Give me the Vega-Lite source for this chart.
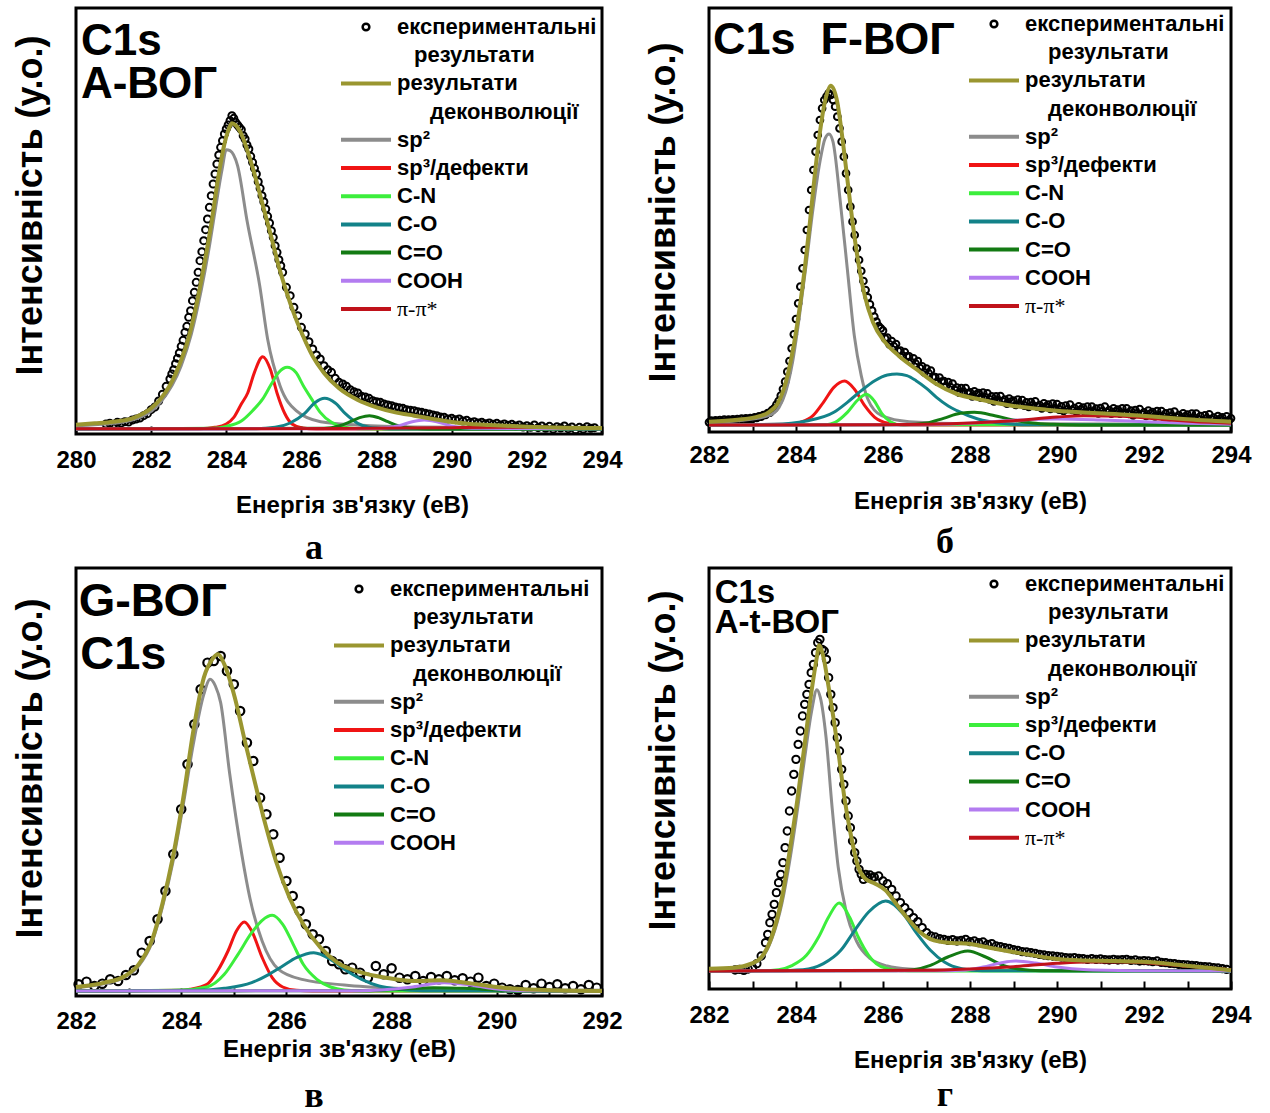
{
"$schema": "https://vega.github.io/schema/vega-lite/v6.json",
"padding": {"left": 10, "top": 6, "right": 0, "bottom": 0},
"autosize": {"type": "pad"},
"background": "white",
"bounds": "flush",
"columns": 2,
"spacing": {"row": 134, "column": 107},
"resolve": {"scale": {"stroke": "independent", "x": "independent", "y": "independent"}, "legend": {"stroke": "independent"}},
"config": {
  "view": {"stroke": "black", "strokeWidth": 3},
  "axis": {"grid": false, "domain": false, "labelFont": "Liberation Sans", "labelFontWeight": "bold", "labelFontSize": 24, "labelColor": "black", "titleFont": "Liberation Sans", "titleFontWeight": "bold", "titleFontSize": 24, "titleColor": "black", "tickColor": "black", "tickWidth": 2},
  "axisY": {"labels": false, "ticks": false, "titleFontSize": 36, "titlePadding": 27},
  "axisX": {"tickSize": -8, "labelOverlap": false, "labelFlush": false, "labelExpr": "datum.value % 2 == 0 ? datum.label : ''"},
  "title": {"font": "Liberation Serif", "fontSize": 36, "fontWeight": "bold", "color": "black", "orient": "bottom", "anchor": "middle", "dx": -25},
  "legend": {"labelFont": "Liberation Sans", "labelFontSize": 22, "labelFontWeight": "bold", "labelColor": "black", "labelLimit": 400, "labelOffset": 34, "symbolSize": 100, "rowPadding": 6.2, "padding": 0}
},
"datasets": {
"aE": [{"x":280.8,"y":15},{"x":280.9,"y":17},{"x":281.0,"y":14},{"x":281.1,"y":20},{"x":281.2,"y":18},{"x":281.3,"y":22},{"x":281.4,"y":21},{"x":281.5,"y":27},{"x":281.6,"y":30},{"x":281.7,"y":33},{"x":281.8,"y":40},{"x":281.9,"y":46},{"x":282.0,"y":58},{"x":282.1,"y":66},{"x":282.2,"y":84},{"x":282.3,"y":104},{"x":282.4,"y":128},{"x":282.5,"y":150},{"x":282.55,"y":165},{"x":282.6,"y":178},{"x":282.65,"y":196},{"x":282.7,"y":212},{"x":282.75,"y":228},{"x":282.8,"y":248},{"x":282.85,"y":266},{"x":282.9,"y":290},{"x":282.95,"y":308},{"x":283.0,"y":335},{"x":283.05,"y":355},{"x":283.1,"y":385},{"x":283.15,"y":410},{"x":283.2,"y":440},{"x":283.25,"y":470},{"x":283.3,"y":505},{"x":283.35,"y":532},{"x":283.4,"y":565},{"x":283.45,"y":598},{"x":283.5,"y":630},{"x":283.55,"y":665},{"x":283.6,"y":700},{"x":283.65,"y":735},{"x":283.7,"y":765},{"x":283.75,"y":795},{"x":283.8,"y":822},{"x":283.85,"y":845},{"x":283.9,"y":865},{"x":283.95,"y":885},{"x":284.0,"y":900},{"x":284.05,"y":912},{"x":284.1,"y":925},{"x":284.15,"y":940},{"x":284.2,"y":932},{"x":284.25,"y":920},{"x":284.3,"y":912},{"x":284.35,"y":905},{"x":284.4,"y":898},{"x":284.45,"y":880},{"x":284.5,"y":870},{"x":284.55,"y":852},{"x":284.6,"y":840},{"x":284.65,"y":818},{"x":284.7,"y":800},{"x":284.75,"y":782},{"x":284.8,"y":765},{"x":284.85,"y":742},{"x":284.9,"y":722},{"x":284.95,"y":700},{"x":285.0,"y":682},{"x":285.05,"y":660},{"x":285.1,"y":638},{"x":285.15,"y":618},{"x":285.2,"y":595},{"x":285.25,"y":575},{"x":285.3,"y":550},{"x":285.35,"y":530},{"x":285.4,"y":508},{"x":285.45,"y":490},{"x":285.5,"y":470},{"x":285.6,"y":425},{"x":285.7,"y":400},{"x":285.8,"y":365},{"x":285.9,"y":340},{"x":286.0,"y":305},{"x":286.1,"y":285},{"x":286.2,"y":262},{"x":286.3,"y":240},{"x":286.4,"y":222},{"x":286.5,"y":210},{"x":286.6,"y":190},{"x":286.7,"y":178},{"x":286.8,"y":170},{"x":286.9,"y":152},{"x":287.0,"y":140},{"x":287.1,"y":135},{"x":287.2,"y":128},{"x":287.3,"y":118},{"x":287.4,"y":112},{"x":287.5,"y":108},{"x":287.6,"y":98},{"x":287.7,"y":96},{"x":287.8,"y":92},{"x":287.9,"y":85},{"x":288.0,"y":82},{"x":288.1,"y":80},{"x":288.2,"y":75},{"x":288.3,"y":72},{"x":288.4,"y":70},{"x":288.5,"y":66},{"x":288.6,"y":64},{"x":288.7,"y":62},{"x":288.8,"y":58},{"x":288.9,"y":56},{"x":289.0,"y":55},{"x":289.1,"y":52},{"x":289.2,"y":50},{"x":289.3,"y":47},{"x":289.4,"y":45},{"x":289.5,"y":42},{"x":289.6,"y":40},{"x":289.7,"y":36},{"x":289.8,"y":35},{"x":289.9,"y":30},{"x":290.0,"y":32},{"x":290.1,"y":28},{"x":290.2,"y":30},{"x":290.3,"y":24},{"x":290.4,"y":26},{"x":290.5,"y":20},{"x":290.6,"y":22},{"x":290.7,"y":18},{"x":290.8,"y":20},{"x":290.9,"y":16},{"x":291.0,"y":18},{"x":291.1,"y":14},{"x":291.2,"y":17},{"x":291.3,"y":12},{"x":291.4,"y":15},{"x":291.5,"y":11},{"x":291.6,"y":14},{"x":291.7,"y":9},{"x":291.8,"y":12},{"x":291.9,"y":6},{"x":292.0,"y":10},{"x":292.1,"y":5},{"x":292.2,"y":12},{"x":292.3,"y":4},{"x":292.4,"y":9},{"x":292.5,"y":2},{"x":292.6,"y":8},{"x":292.7,"y":0},{"x":292.8,"y":7},{"x":292.9,"y":3},{"x":293.0,"y":9},{"x":293.1,"y":1},{"x":293.2,"y":6},{"x":293.3,"y":-2},{"x":293.4,"y":5},{"x":293.5,"y":0},{"x":293.6,"y":7},{"x":293.7,"y":2},{"x":293.8,"y":4}],
"aF": [{"x":280,"y":13},{"x":280.5,"y":17},{"x":281,"y":22},{"x":281.5,"y":32},{"x":282,"y":62},{"x":282.25,"y":90},{"x":282.5,"y":131},{"x":282.75,"y":192},{"x":283,"y":275},{"x":283.2,"y":370},{"x":283.4,"y":485},{"x":283.6,"y":615},{"x":283.8,"y":765},{"x":283.95,"y":855},{"x":284.05,"y":895},{"x":284.15,"y":917},{"x":284.25,"y":911},{"x":284.4,"y":885},{"x":284.6,"y":822},{"x":284.8,"y":745},{"x":285,"y":660},{"x":285.2,"y":575},{"x":285.4,"y":487},{"x":285.6,"y":412},{"x":285.8,"y":346},{"x":286,"y":290},{"x":286.3,"y":218},{"x":286.6,"y":168},{"x":287,"y":122},{"x":287.5,"y":87},{"x":288,"y":65},{"x":288.5,"y":50},{"x":289,"y":40},{"x":289.5,"y":30},{"x":290,"y":21},{"x":290.5,"y":15},{"x":291,"y":12},{"x":292,"y":7},{"x":293,"y":4},{"x":294,"y":3}],
"aC": [
{"s":"sp2","x":280,"y":10},{"s":"sp2","x":281,"y":17},{"s":"sp2","x":281.7,"y":35},{"s":"sp2","x":282.25,"y":80},{"s":"sp2","x":282.8,"y":190},{"s":"sp2","x":283.07,"y":285},{"s":"sp2","x":283.34,"y":420},{"s":"sp2","x":283.53,"y":535},{"s":"sp2","x":283.71,"y":660},{"s":"sp2","x":283.89,"y":780},{"s":"sp2","x":284,"y":838},{"s":"sp2","x":284.1,"y":835},{"s":"sp2","x":284.3,"y":790},{"s":"sp2","x":284.56,"y":620},{"s":"sp2","x":284.89,"y":430},{"s":"sp2","x":285.1,"y":270},{"s":"sp2","x":285.43,"y":130},{"s":"sp2","x":285.86,"y":55},{"s":"sp2","x":286.51,"y":22},{"s":"sp2","x":287.5,"y":12},{"s":"sp2","x":289,"y":6},{"s":"sp2","x":294,"y":3},
{"s":"sp3","x":280,"y":0},{"s":"sp3","x":283.3,"y":1},{"s":"sp3","x":283.7,"y":5},{"s":"sp3","x":284,"y":15},{"s":"sp3","x":284.2,"y":35},{"s":"sp3","x":284.4,"y":75},{"s":"sp3","x":284.57,"y":108},{"s":"sp3","x":284.75,"y":170},{"s":"sp3","x":284.97,"y":217},{"s":"sp3","x":285.17,"y":180},{"s":"sp3","x":285.35,"y":108},{"s":"sp3","x":285.55,"y":48},{"s":"sp3","x":285.75,"y":15},{"s":"sp3","x":286,"y":4},{"s":"sp3","x":286.4,"y":0},{"s":"sp3","x":294,"y":0},
{"s":"cn","x":280,"y":0},{"s":"cn","x":283.6,"y":2},{"s":"cn","x":284,"y":8},{"s":"cn","x":284.4,"y":24},{"s":"cn","x":284.7,"y":55},{"s":"cn","x":284.98,"y":92},{"s":"cn","x":285.2,"y":135},{"s":"cn","x":285.4,"y":170},{"s":"cn","x":285.62,"y":185},{"s":"cn","x":285.85,"y":170},{"s":"cn","x":286.05,"y":130},{"s":"cn","x":286.26,"y":92},{"s":"cn","x":286.5,"y":50},{"s":"cn","x":286.8,"y":20},{"s":"cn","x":287.1,"y":6},{"s":"cn","x":287.5,"y":1},{"s":"cn","x":288,"y":0},{"s":"cn","x":294,"y":0},
{"s":"co","x":280,"y":0},{"s":"co","x":284.8,"y":1},{"s":"co","x":285.3,"y":5},{"s":"co","x":285.7,"y":18},{"s":"co","x":286.08,"y":46},{"s":"co","x":286.35,"y":78},{"s":"co","x":286.62,"y":92},{"s":"co","x":286.9,"y":78},{"s":"co","x":287.17,"y":46},{"s":"co","x":287.5,"y":17},{"s":"co","x":287.8,"y":5},{"s":"co","x":288.2,"y":1},{"s":"co","x":288.6,"y":0},{"s":"co","x":294,"y":0},
{"s":"cdo","x":280,"y":0},{"s":"cdo","x":286.6,"y":2},{"s":"cdo","x":287,"y":9},{"s":"cdo","x":287.3,"y":22},{"s":"cdo","x":287.55,"y":34},{"s":"cdo","x":287.81,"y":40},{"s":"cdo","x":288.05,"y":34},{"s":"cdo","x":288.3,"y":22},{"s":"cdo","x":288.6,"y":9},{"s":"cdo","x":289,"y":2},{"s":"cdo","x":289.4,"y":0},{"s":"cdo","x":294,"y":0},
{"s":"cooh","x":280,"y":0},{"s":"cooh","x":287.8,"y":1},{"s":"cooh","x":288.2,"y":3},{"s":"cooh","x":288.6,"y":10},{"s":"cooh","x":288.95,"y":22},{"s":"cooh","x":289.27,"y":27},{"s":"cooh","x":289.6,"y":22},{"s":"cooh","x":289.95,"y":10},{"s":"cooh","x":290.3,"y":4},{"s":"cooh","x":290.8,"y":2},{"s":"cooh","x":294,"y":1},
{"s":"pi","x":280,"y":1},{"s":"pi","x":285,"y":1},{"s":"pi","x":288,"y":2},{"s":"pi","x":290,"y":4},{"s":"pi","x":291.5,"y":5},{"s":"pi","x":293,"y":4},{"s":"pi","x":294,"y":3}],
"bE": [{"x":282.0,"y":8},{"x":282.05,"y":13},{"x":282.1,"y":9},{"x":282.15,"y":14},{"x":282.2,"y":10},{"x":282.25,"y":15},{"x":282.3,"y":11},{"x":282.35,"y":16},{"x":282.4,"y":12},{"x":282.45,"y":16},{"x":282.5,"y":13},{"x":282.55,"y":17},{"x":282.6,"y":13},{"x":282.65,"y":18},{"x":282.7,"y":14},{"x":282.75,"y":19},{"x":282.8,"y":15},{"x":282.85,"y":20},{"x":282.9,"y":16},{"x":282.95,"y":21},{"x":283.0,"y":18},{"x":283.05,"y":23},{"x":283.1,"y":21},{"x":283.15,"y":26},{"x":283.2,"y":25},{"x":283.25,"y":30},{"x":283.3,"y":30},{"x":283.35,"y":36},{"x":283.4,"y":37},{"x":283.45,"y":45},{"x":283.5,"y":50},{"x":283.55,"y":61},{"x":283.6,"y":72},{"x":283.65,"y":88},{"x":283.7,"y":108},{"x":283.75,"y":130},{"x":283.8,"y":160},{"x":283.85,"y":192},{"x":283.9,"y":230},{"x":283.95,"y":272},{"x":284.0,"y":318},{"x":284.05,"y":365},{"x":284.1,"y":415},{"x":284.15,"y":470},{"x":284.2,"y":525},{"x":284.25,"y":585},{"x":284.3,"y":645},{"x":284.35,"y":705},{"x":284.4,"y":765},{"x":284.45,"y":820},{"x":284.5,"y":870},{"x":284.55,"y":915},{"x":284.6,"y":950},{"x":284.65,"y":975},{"x":284.7,"y":985},{"x":284.75,"y":995},{"x":284.8,"y":990},{"x":284.85,"y":975},{"x":284.9,"y":955},{"x":284.95,"y":925},{"x":285.0,"y":890},{"x":285.05,"y":850},{"x":285.1,"y":805},{"x":285.15,"y":755},{"x":285.2,"y":705},{"x":285.25,"y":655},{"x":285.3,"y":610},{"x":285.35,"y":570},{"x":285.4,"y":530},{"x":285.45,"y":495},{"x":285.5,"y":462},{"x":285.55,"y":432},{"x":285.6,"y":405},{"x":285.65,"y":383},{"x":285.7,"y":362},{"x":285.75,"y":343},{"x":285.8,"y":325},{"x":285.85,"y":310},{"x":285.9,"y":297},{"x":285.95,"y":290},
{"x":286.0,"y":283},{"x":286.05,"y":259},{"x":286.1,"y":262},{"x":286.15,"y":242},{"x":286.2,"y":252},{"x":286.25,"y":236},{"x":286.3,"y":243},{"x":286.35,"y":222},{"x":286.4,"y":223},{"x":286.45,"y":208},{"x":286.5,"y":219},{"x":286.55,"y":206},{"x":286.6,"y":206},{"x":286.65,"y":189},{"x":286.7,"y":200},{"x":286.75,"y":184},{"x":286.8,"y":192},{"x":286.85,"y":171},{"x":286.9,"y":176},{"x":286.95,"y":158},{"x":287.0,"y":169},{"x":287.05,"y":155},{"x":287.1,"y":163},{"x":287.15,"y":143},{"x":287.2,"y":144},{"x":287.25,"y":130},{"x":287.3,"y":142},{"x":287.35,"y":130},{"x":287.4,"y":132},{"x":287.45,"y":117},{"x":287.5,"y":129},{"x":287.55,"y":114},{"x":287.6,"y":124},{"x":287.65,"y":105},{"x":287.7,"y":112},{"x":287.75,"y":97},{"x":287.8,"y":111},{"x":287.85,"y":100},{"x":287.9,"y":111},{"x":287.95,"y":94},{"x":288.0,"y":98},{"x":288.05,"y":86},{"x":288.1,"y":101},{"x":288.15,"y":92},{"x":288.2,"y":96},{"x":288.25,"y":82},{"x":288.3,"y":97},{"x":288.35,"y":84},{"x":288.4,"y":95},{"x":288.45,"y":77},{"x":288.5,"y":86},{"x":288.55,"y":71},{"x":288.6,"y":86},{"x":288.65,"y":75},{"x":288.7,"y":87},{"x":288.75,"y":71},{"x":288.8,"y":76},{"x":288.85,"y":64},{"x":288.9,"y":79},{"x":288.95,"y":70},{"x":289.0,"y":73},{"x":289.05,"y":60},{"x":289.1,"y":76},{"x":289.15,"y":63},{"x":289.2,"y":75},{"x":289.25,"y":58},{"x":289.3,"y":68},{"x":289.35,"y":54},{"x":289.4,"y":69},{"x":289.45,"y":59},{"x":289.5,"y":71},{"x":289.55,"y":55},{"x":289.6,"y":60},{"x":289.65,"y":50},{"x":289.7,"y":65},{"x":289.75,"y":56},{"x":289.8,"y":61},{"x":289.85,"y":48},{"x":289.9,"y":64},{"x":289.95,"y":51},{"x":290.0,"y":63},{"x":290.05,"y":46},{"x":290.1,"y":56},{"x":290.15,"y":42},{"x":290.2,"y":58},{"x":290.25,"y":48},{"x":290.3,"y":61},{"x":290.35,"y":45},{"x":290.4,"y":51},{"x":290.45,"y":40},{"x":290.5,"y":56},{"x":290.55,"y":47},{"x":290.6,"y":52},{"x":290.65,"y":39},{"x":290.7,"y":55},{"x":290.75,"y":42},{"x":290.8,"y":55},{"x":290.85,"y":39},{"x":290.9,"y":49},{"x":290.95,"y":35},{"x":291.0,"y":51},{"x":291.05,"y":42},{"x":291.1,"y":55},{"x":291.15,"y":39},{"x":291.2,"y":45},{"x":291.25,"y":34},{"x":291.3,"y":50},{"x":291.35,"y":41},{"x":291.4,"y":46},{"x":291.45,"y":34},{"x":291.5,"y":50},{"x":291.55,"y":37},{"x":291.6,"y":50},{"x":291.65,"y":33},{"x":291.7,"y":43},{"x":291.75,"y":29},{"x":291.8,"y":45},{"x":291.85,"y":35},{"x":291.9,"y":48},{"x":291.95,"y":32},{"x":292.0,"y":38},{"x":292.05,"y":27},{"x":292.1,"y":43},{"x":292.15,"y":34},{"x":292.2,"y":39},{"x":292.25,"y":26},{"x":292.3,"y":42},{"x":292.35,"y":29},{"x":292.4,"y":42},{"x":292.45,"y":25},{"x":292.5,"y":35},{"x":292.55,"y":21},{"x":292.6,"y":37},{"x":292.65,"y":27},{"x":292.7,"y":40},{"x":292.75,"y":24},{"x":292.8,"y":30},{"x":292.85,"y":19},{"x":292.9,"y":35},{"x":292.95,"y":26},{"x":293.0,"y":31},{"x":293.05,"y":19},{"x":293.1,"y":34},{"x":293.15,"y":22},{"x":293.2,"y":34},{"x":293.25,"y":18},{"x":293.3,"y":27},{"x":293.35,"y":14},{"x":293.4,"y":29},{"x":293.45,"y":20},{"x":293.5,"y":32},{"x":293.55,"y":17},{"x":293.6,"y":22},{"x":293.65,"y":12},{"x":293.7,"y":27},{"x":293.75,"y":19},{"x":293.8,"y":23},{"x":293.85,"y":11},{"x":293.9,"y":26},{"x":293.95,"y":14},{"x":294.0,"y":20}],
"bF": [{"x":282,"y":10},{"x":282.66,"y":16},{"x":283.05,"y":23},{"x":283.37,"y":38},{"x":283.57,"y":63},{"x":283.72,"y":108},{"x":283.84,"y":168},{"x":283.96,"y":248},{"x":284.08,"y":348},{"x":284.2,"y":468},{"x":284.32,"y":608},{"x":284.43,"y":748},{"x":284.55,"y":878},{"x":284.67,"y":973},{"x":284.8,"y":1018},{"x":284.95,"y":968},{"x":285.06,"y":868},{"x":285.18,"y":738},{"x":285.3,"y":608},{"x":285.42,"y":498},{"x":285.58,"y":388},{"x":285.77,"y":308},{"x":286.05,"y":248},{"x":286.36,"y":208},{"x":286.76,"y":168},{"x":287.23,"y":123},{"x":287.7,"y":93},{"x":288.18,"y":78},{"x":288.96,"y":58},{"x":289.75,"y":46},{"x":290.54,"y":38},{"x":291.33,"y":33},{"x":292.12,"y":26},{"x":292.9,"y":18},{"x":294,"y":10}],
"bC": [
{"s":"sp2","x":282,"y":8},{"s":"sp2","x":282.66,"y":13},{"s":"sp2","x":283.37,"y":28},{"s":"sp2","x":283.61,"y":53},{"s":"sp2","x":283.76,"y":98},{"s":"sp2","x":283.92,"y":188},{"s":"sp2","x":284.08,"y":328},{"s":"sp2","x":284.24,"y":488},{"s":"sp2","x":284.39,"y":648},{"s":"sp2","x":284.55,"y":790},{"s":"sp2","x":284.67,"y":860},{"s":"sp2","x":284.76,"y":873},{"s":"sp2","x":284.85,"y":850},{"s":"sp2","x":285.02,"y":668},{"s":"sp2","x":285.18,"y":468},{"s":"sp2","x":285.34,"y":268},{"s":"sp2","x":285.5,"y":148},{"s":"sp2","x":285.65,"y":78},{"s":"sp2","x":285.97,"y":28},{"s":"sp2","x":286.6,"y":10},{"s":"sp2","x":288,"y":4},{"s":"sp2","x":294,"y":2},
{"s":"sp3","x":282,"y":0},{"s":"sp3","x":283.9,"y":2},{"s":"sp3","x":284.1,"y":8},{"s":"sp3","x":284.39,"y":28},{"s":"sp3","x":284.63,"y":68},{"s":"sp3","x":284.87,"y":113},{"s":"sp3","x":285.12,"y":132},{"s":"sp3","x":285.34,"y":108},{"s":"sp3","x":285.58,"y":58},{"s":"sp3","x":285.81,"y":23},{"s":"sp3","x":286.13,"y":5},{"s":"sp3","x":286.5,"y":0},{"s":"sp3","x":294,"y":0},
{"s":"cn","x":282,"y":0},{"s":"cn","x":284.7,"y":1},{"s":"cn","x":284.9,"y":8},{"s":"cn","x":285.18,"y":38},{"s":"cn","x":285.42,"y":75},{"s":"cn","x":285.62,"y":92},{"s":"cn","x":285.8,"y":72},{"s":"cn","x":285.97,"y":35},{"s":"cn","x":286.17,"y":10},{"s":"cn","x":286.4,"y":1},{"s":"cn","x":294,"y":0},
{"s":"co","x":282,"y":0},{"s":"co","x":283.5,"y":2},{"s":"co","x":284.24,"y":12},{"s":"co","x":284.87,"y":38},{"s":"co","x":285.18,"y":68},{"s":"co","x":285.5,"y":103},{"s":"co","x":285.81,"y":133},{"s":"co","x":286.1,"y":150},{"s":"co","x":286.32,"y":153},{"s":"co","x":286.55,"y":148},{"s":"co","x":286.76,"y":133},{"s":"co","x":287,"y":110},{"s":"co","x":287.23,"y":83},{"s":"co","x":287.5,"y":57},{"s":"co","x":287.7,"y":43},{"s":"co","x":288.18,"y":18},{"s":"co","x":288.73,"y":5},{"s":"co","x":289.2,"y":1},{"s":"co","x":294,"y":0},
{"s":"cdo","x":282,"y":0},{"s":"cdo","x":286.5,"y":1},{"s":"cdo","x":287,"y":6},{"s":"cdo","x":287.39,"y":20},{"s":"cdo","x":287.78,"y":35},{"s":"cdo","x":288.1,"y":38},{"s":"cdo","x":288.57,"y":28},{"s":"cdo","x":288.96,"y":16},{"s":"cdo","x":289.44,"y":6},{"s":"cdo","x":289.91,"y":2},{"s":"cdo","x":290.5,"y":0},{"s":"cdo","x":294,"y":0},
{"s":"cooh","x":282,"y":0},{"s":"cooh","x":287,"y":1},{"s":"cooh","x":288,"y":5},{"s":"cooh","x":289,"y":14},{"s":"cooh","x":290,"y":18},{"s":"cooh","x":291,"y":15},{"s":"cooh","x":292,"y":10},{"s":"cooh","x":293,"y":5},{"s":"cooh","x":294,"y":2},
{"s":"pi","x":282,"y":0},{"s":"pi","x":286,"y":1},{"s":"pi","x":288,"y":6},{"s":"pi","x":289,"y":13},{"s":"pi","x":290,"y":24},{"s":"pi","x":290.62,"y":28},{"s":"pi","x":291.5,"y":26},{"s":"pi","x":292.5,"y":16},{"s":"pi","x":293.5,"y":8},{"s":"pi","x":294,"y":5}],
"cE": [{"x":282.05,"y":20},{"x":282.2,"y":28},{"x":282.35,"y":15},{"x":282.5,"y":22},{"x":282.65,"y":35},{"x":282.8,"y":30},{"x":282.95,"y":48},{"x":283.1,"y":62},{"x":283.25,"y":115},{"x":283.4,"y":150},{"x":283.55,"y":215},{"x":283.7,"y":300},{"x":283.85,"y":410},{"x":284.0,"y":545},{"x":284.12,"y":680},{"x":284.25,"y":800},{"x":284.37,"y":905},{"x":284.5,"y":985},{"x":284.62,"y":990},{"x":284.75,"y":1005},{"x":284.87,"y":960},{"x":285.0,"y":920},{"x":285.12,"y":840},{"x":285.25,"y":745},{"x":285.37,"y":690},{"x":285.5,"y":580},{"x":285.62,"y":530},{"x":285.75,"y":470},{"x":285.87,"y":400},{"x":286.0,"y":330},{"x":286.12,"y":285},{"x":286.25,"y":240},{"x":286.37,"y":200},{"x":286.5,"y":170},{"x":286.62,"y":155},{"x":286.75,"y":120},{"x":286.87,"y":90},{"x":287.0,"y":80},{"x":287.12,"y":65},{"x":287.25,"y":70},{"x":287.4,"y":55},{"x":287.55,"y":40},{"x":287.7,"y":75},{"x":287.85,"y":50},{"x":288.0,"y":68},{"x":288.15,"y":40},{"x":288.3,"y":35},{"x":288.45,"y":45},{"x":288.6,"y":30},{"x":288.75,"y":42},{"x":288.9,"y":35},{"x":289.05,"y":45},{"x":289.2,"y":32},{"x":289.35,"y":38},{"x":289.5,"y":28},{"x":289.65,"y":40},{"x":289.8,"y":15},{"x":289.95,"y":22},{"x":290.1,"y":10},{"x":290.25,"y":5},{"x":290.4,"y":3},{"x":290.55,"y":18},{"x":290.7,"y":8},{"x":290.85,"y":22},{"x":291.0,"y":12},{"x":291.15,"y":20},{"x":291.3,"y":8},{"x":291.45,"y":15},{"x":291.6,"y":5},{"x":291.75,"y":18},{"x":291.9,"y":10}],
"cF": [{"x":282,"y":12},{"x":282.54,"y":25},{"x":282.93,"y":45},{"x":283.19,"y":80},{"x":283.45,"y":155},{"x":283.64,"y":260},{"x":283.84,"y":400},{"x":284.04,"y":580},{"x":284.23,"y":780},{"x":284.43,"y":940},{"x":284.59,"y":995},{"x":284.7,"y":1010},{"x":284.82,"y":980},{"x":285.02,"y":880},{"x":285.21,"y":750},{"x":285.41,"y":620},{"x":285.6,"y":500},{"x":285.8,"y":390},{"x":286.06,"y":280},{"x":286.32,"y":200},{"x":286.65,"y":130},{"x":286.97,"y":85},{"x":287.43,"y":55},{"x":287.89,"y":40},{"x":288.41,"y":30},{"x":288.93,"y":32},{"x":289.26,"y":28},{"x":289.72,"y":18},{"x":290.24,"y":8},{"x":291.02,"y":2},{"x":292,"y":0}],
"cC": [
{"s":"sp2","x":282,"y":10},{"s":"sp2","x":282.54,"y":22},{"s":"sp2","x":282.93,"y":42},{"s":"sp2","x":283.19,"y":75},{"s":"sp2","x":283.45,"y":148},{"s":"sp2","x":283.64,"y":250},{"s":"sp2","x":283.84,"y":385},{"s":"sp2","x":284.04,"y":560},{"s":"sp2","x":284.23,"y":740},{"s":"sp2","x":284.43,"y":890},{"s":"sp2","x":284.55,"y":935},{"s":"sp2","x":284.65,"y":915},{"s":"sp2","x":284.75,"y":865},{"s":"sp2","x":284.92,"y":654},{"s":"sp2","x":285.15,"y":412},{"s":"sp2","x":285.31,"y":276},{"s":"sp2","x":285.54,"y":149},{"s":"sp2","x":285.85,"y":65},{"s":"sp2","x":286.32,"y":34},{"s":"sp2","x":287.1,"y":18},{"s":"sp2","x":288.08,"y":8},{"s":"sp2","x":289,"y":4},{"s":"sp2","x":292,"y":2},
{"s":"sp3","x":282,"y":0},{"s":"sp3","x":284,"y":2},{"s":"sp3","x":284.17,"y":5},{"s":"sp3","x":284.49,"y":20},{"s":"sp3","x":284.69,"y":60},{"s":"sp3","x":284.89,"y":120},{"s":"sp3","x":285.05,"y":180},{"s":"sp3","x":285.2,"y":207},{"s":"sp3","x":285.34,"y":180},{"s":"sp3","x":285.54,"y":100},{"s":"sp3","x":285.73,"y":40},{"s":"sp3","x":285.93,"y":12},{"s":"sp3","x":286.19,"y":2},{"s":"sp3","x":286.5,"y":0},{"s":"sp3","x":292,"y":0},
{"s":"cn","x":282,"y":0},{"s":"cn","x":284,"y":3},{"s":"cn","x":284.49,"y":12},{"s":"cn","x":284.82,"y":50},{"s":"cn","x":285.08,"y":110},{"s":"cn","x":285.34,"y":175},{"s":"cn","x":285.54,"y":212},{"s":"cn","x":285.73,"y":227},{"s":"cn","x":285.93,"y":200},{"s":"cn","x":286.13,"y":140},{"s":"cn","x":286.32,"y":80},{"s":"cn","x":286.58,"y":35},{"s":"cn","x":286.84,"y":12},{"s":"cn","x":287.1,"y":3},{"s":"cn","x":287.5,"y":0},{"s":"cn","x":292,"y":0},
{"s":"co","x":282,"y":0},{"s":"co","x":284.3,"y":2},{"s":"co","x":284.82,"y":8},{"s":"co","x":285.34,"y":25},{"s":"co","x":285.67,"y":50},{"s":"co","x":285.93,"y":75},{"s":"co","x":286.19,"y":100},{"s":"co","x":286.52,"y":115},{"s":"co","x":286.84,"y":95},{"s":"co","x":287.1,"y":65},{"s":"co","x":287.43,"y":35},{"s":"co","x":287.76,"y":15},{"s":"co","x":288.15,"y":5},{"s":"co","x":288.6,"y":1},{"s":"co","x":292,"y":0},
{"s":"cdo","x":282,"y":0},{"s":"cdo","x":287.5,"y":1},{"s":"cdo","x":288.2,"y":6},{"s":"cdo","x":288.8,"y":10},{"s":"cdo","x":289.4,"y":8},{"s":"cdo","x":290,"y":3},{"s":"cdo","x":290.6,"y":0},{"s":"cdo","x":292,"y":0},
{"s":"cooh","x":282,"y":0},{"s":"cooh","x":287.4,"y":1},{"s":"cooh","x":287.8,"y":3},{"s":"cooh","x":288.4,"y":12},{"s":"cooh","x":289,"y":25},{"s":"cooh","x":289.5,"y":18},{"s":"cooh","x":290,"y":6},{"s":"cooh","x":290.5,"y":1},{"s":"cooh","x":292,"y":0}],
"dE": [{"x":282.6,"y":3},{"x":282.7,"y":5},{"x":282.8,"y":2},{"x":282.9,"y":6},{"x":283.0,"y":10},{"x":283.1,"y":22},{"x":283.2,"y":45},{"x":283.3,"y":85},{"x":283.35,"y":110},{"x":283.4,"y":145},{"x":283.45,"y":170},{"x":283.5,"y":200},{"x":283.55,"y":235},{"x":283.6,"y":265},{"x":283.65,"y":290},{"x":283.7,"y":325},{"x":283.75,"y":370},{"x":283.8,"y":420},{"x":283.85,"y":480},{"x":283.9,"y":540},{"x":283.95,"y":590},{"x":284.0,"y":635},{"x":284.05,"y":680},{"x":284.1,"y":720},{"x":284.15,"y":765},{"x":284.2,"y":800},{"x":284.25,"y":830},{"x":284.3,"y":860},{"x":284.35,"y":895},{"x":284.4,"y":920},{"x":284.45,"y":955},{"x":284.5,"y":985},{"x":284.55,"y":995},{"x":284.6,"y":965},{"x":284.65,"y":960},{"x":284.7,"y":935},{"x":284.75,"y":880},{"x":284.8,"y":830},{"x":284.85,"y":790},{"x":284.9,"y":745},{"x":284.95,"y":700},{"x":285.0,"y":660},{"x":285.05,"y":605},{"x":285.1,"y":560},{"x":285.15,"y":510},{"x":285.2,"y":465},{"x":285.25,"y":430},{"x":285.3,"y":390},{"x":285.35,"y":355},{"x":285.4,"y":330},{"x":285.45,"y":305},{"x":285.5,"y":290},{"x":285.55,"y":275},{"x":285.6,"y":290},{"x":285.65,"y":280},{"x":285.7,"y":288},{"x":285.75,"y":280},{"x":285.8,"y":282},{"x":285.9,"y":285},{"x":286.0,"y":270},{"x":286.1,"y":262},{"x":286.2,"y":245},{"x":286.3,"y":225},{"x":286.4,"y":205},{"x":286.5,"y":190},{"x":286.6,"y":175},{"x":286.7,"y":160},{"x":286.8,"y":148},{"x":286.9,"y":130},{"x":287.0,"y":115},{"x":287.1,"y":105},{"x":287.2,"y":102},{"x":287.3,"y":97},{"x":287.4,"y":95},{"x":287.5,"y":92},{"x":287.6,"y":94},{"x":287.7,"y":90},{"x":287.8,"y":92},{"x":287.9,"y":95},{"x":288.0,"y":88},{"x":288.1,"y":90},{"x":288.2,"y":85},{"x":288.3,"y":87},{"x":288.4,"y":80},{"x":288.5,"y":82},{"x":288.6,"y":75},{"x":288.7,"y":73},{"x":288.8,"y":70},{"x":288.9,"y":68},{"x":289.0,"y":64},{"x":289.1,"y":62},{"x":289.2,"y":58},{"x":289.3,"y":57},{"x":289.4,"y":55},{"x":289.5,"y":53},{"x":289.6,"y":50},{"x":289.7,"y":48},{"x":289.8,"y":46},{"x":289.9,"y":45},{"x":290.0,"y":44},{"x":290.1,"y":42},{"x":290.2,"y":40},{"x":290.3,"y":39},{"x":290.4,"y":40},{"x":290.5,"y":38},{"x":290.6,"y":37},{"x":290.7,"y":35},{"x":290.8,"y":37},{"x":290.9,"y":35},{"x":291.0,"y":36},{"x":291.1,"y":34},{"x":291.2,"y":33},{"x":291.3,"y":35},{"x":291.4,"y":33},{"x":291.5,"y":34},{"x":291.6,"y":35},{"x":291.7,"y":32},{"x":291.8,"y":33},{"x":291.9,"y":30},{"x":292.0,"y":31},{"x":292.1,"y":30},{"x":292.2,"y":28},{"x":292.3,"y":30},{"x":292.4,"y":26},{"x":292.5,"y":25},{"x":292.6,"y":23},{"x":292.7,"y":22},{"x":292.8,"y":20},{"x":292.9,"y":19},{"x":293.0,"y":18},{"x":293.1,"y":17},{"x":293.2,"y":16},{"x":293.3,"y":14},{"x":293.4,"y":13},{"x":293.5,"y":12},{"x":293.6,"y":10},{"x":293.7,"y":9},{"x":293.8,"y":7},{"x":293.9,"y":5}],
"dF": [{"x":282,"y":7},{"x":282.57,"y":10},{"x":282.97,"y":22},{"x":283.21,"y":42},{"x":283.44,"y":102},{"x":283.68,"y":222},{"x":283.88,"y":382},{"x":284.04,"y":522},{"x":284.2,"y":682},{"x":284.36,"y":842},{"x":284.48,"y":942},{"x":284.53,"y":977},{"x":284.63,"y":942},{"x":284.75,"y":852},{"x":284.87,"y":752},{"x":284.99,"y":642},{"x":285.11,"y":522},{"x":285.27,"y":402},{"x":285.43,"y":312},{"x":285.59,"y":277},{"x":285.82,"y":262},{"x":286.06,"y":242},{"x":286.3,"y":202},{"x":286.54,"y":162},{"x":286.85,"y":117},{"x":287.17,"y":92},{"x":287.57,"y":84},{"x":287.97,"y":82},{"x":288.36,"y":72},{"x":288.76,"y":62},{"x":289.31,"y":50},{"x":289.95,"y":37},{"x":290.5,"y":32},{"x":291.3,"y":30},{"x":292.09,"y":27},{"x":292.88,"y":17},{"x":293.52,"y":9},{"x":294,"y":2}],
"dC": [
{"s":"sp2","x":282,"y":5},{"s":"sp2","x":282.57,"y":8},{"s":"sp2","x":282.97,"y":20},{"s":"sp2","x":283.21,"y":38},{"s":"sp2","x":283.44,"y":95},{"s":"sp2","x":283.68,"y":205},{"s":"sp2","x":283.88,"y":350},{"s":"sp2","x":284.04,"y":490},{"s":"sp2","x":284.2,"y":640},{"s":"sp2","x":284.36,"y":780},{"s":"sp2","x":284.48,"y":844},{"s":"sp2","x":284.56,"y":820},{"s":"sp2","x":284.69,"y":702},{"s":"sp2","x":284.83,"y":491},{"s":"sp2","x":284.97,"y":312},{"s":"sp2","x":285.16,"y":174},{"s":"sp2","x":285.39,"y":90},{"s":"sp2","x":285.71,"y":37},{"s":"sp2","x":286.1,"y":15},{"s":"sp2","x":286.6,"y":6},{"s":"sp2","x":287.5,"y":2},{"s":"sp2","x":294,"y":0},
{"s":"sp3","x":282,"y":0},{"s":"sp3","x":283.2,"y":1},{"s":"sp3","x":283.6,"y":4},{"s":"sp3","x":283.92,"y":17},{"s":"sp3","x":284.24,"y":47},{"s":"sp3","x":284.52,"y":102},{"s":"sp3","x":284.75,"y":162},{"s":"sp3","x":284.99,"y":204},{"s":"sp3","x":285.23,"y":162},{"s":"sp3","x":285.43,"y":102},{"s":"sp3","x":285.67,"y":47},{"s":"sp3","x":285.9,"y":17},{"s":"sp3","x":286.22,"y":4},{"s":"sp3","x":286.6,"y":0},{"s":"sp3","x":294,"y":0},
{"s":"co","x":282,"y":0},{"s":"co","x":283.5,"y":1},{"s":"co","x":284.16,"y":4},{"s":"co","x":284.63,"y":22},{"s":"co","x":285.03,"y":62},{"s":"co","x":285.35,"y":122},{"s":"co","x":285.67,"y":177},{"s":"co","x":286.06,"y":210},{"s":"co","x":286.46,"y":172},{"s":"co","x":286.78,"y":112},{"s":"co","x":287.09,"y":62},{"s":"co","x":287.41,"y":27},{"s":"co","x":287.81,"y":7},{"s":"co","x":288.28,"y":1},{"s":"co","x":294,"y":0},
{"s":"cdo","x":282,"y":0},{"s":"cdo","x":286.3,"y":1},{"s":"cdo","x":286.7,"y":4},{"s":"cdo","x":287.09,"y":17},{"s":"cdo","x":287.49,"y":42},{"s":"cdo","x":287.95,"y":60},{"s":"cdo","x":288.36,"y":42},{"s":"cdo","x":288.76,"y":17},{"s":"cdo","x":289.15,"y":5},{"s":"cdo","x":289.63,"y":1},{"s":"cdo","x":294,"y":0},
{"s":"cooh","x":282,"y":0},{"s":"cooh","x":287.5,"y":1},{"s":"cooh","x":287.8,"y":2},{"s":"cooh","x":288.3,"y":12},{"s":"cooh","x":288.7,"y":24},{"s":"cooh","x":289.04,"y":30},{"s":"cooh","x":289.5,"y":24},{"s":"cooh","x":290,"y":12},{"s":"cooh","x":290.7,"y":4},{"s":"cooh","x":292,"y":1},{"s":"cooh","x":294,"y":0},
{"s":"pi","x":282,"y":0},{"s":"pi","x":287,"y":2},{"s":"pi","x":288,"y":6},{"s":"pi","x":289,"y":13},{"s":"pi","x":290,"y":23},{"s":"pi","x":290.66,"y":27},{"s":"pi","x":291.5,"y":27},{"s":"pi","x":292.3,"y":22},{"s":"pi","x":293,"y":14},{"s":"pi","x":294,"y":4}]
},
"concat": [
{"width": 526, "height": 426,
 "title": {"text": "а", "offset": 14},
 "layer": [
  {"data": {"name": "aE"}, "mark": {"type": "point", "filled": false, "size": 50, "strokeWidth": 2, "opacity": 1},
   "encoding": {
    "x": {"field": "x", "type": "quantitative", "scale": {"domain": [280, 294], "nice": false, "zero": false}, "axis": {"title": "Енергія зв'язку (еВ)", "values": [280,281,282,283,284,285,286,287,288,289,290,291,292,293,294], "labelPadding": 22, "titlePadding": 21, "titleX": 276, "encode": {"ticks": {"update": {"y2": {"signal": "datum.value % 2 == 0 ? -9 : -5"}}}}}},
    "y": {"field": "y", "type": "quantitative", "scale": {"domain": [-15, 1263], "nice": false, "zero": false}, "axis": {"title": "Інтенсивність (у.о.)", "titleY": 197}},
    "stroke": {"datum": "exp", "type": "nominal"}}},
  {"data": {"name": "aC"}, "mark": {"type": "line", "strokeWidth": 3, "interpolate": "monotone"},
   "encoding": {
    "x": {"field": "x", "type": "quantitative"},
    "y": {"field": "y", "type": "quantitative"},
    "stroke": {"field": "s", "type": "nominal",
      "scale": {"domain": ["exp","exp2","fit","fit2","sp2","sp3","cn","co","cdo","cooh","pi"], "range": ["black","rgba(0,0,0,0)","#9a9630","rgba(0,0,0,0)","#8c8c8c","#f01414","#3cee3c","#138289","#137a13","#b37cf0","#c0121a"]},
      "legend": {"orient": "none", "legendX": 265, "legendY": 8, "title": null,
        "labelExpr": "datum.value=='exp'?'експериментальні':datum.value=='exp2'?'результати':datum.value=='fit'?'результати':datum.value=='fit2'?'деконволюції':datum.value=='sp2'?'sp²':datum.value=='sp3'?'sp³/дефекти':datum.value=='cn'?'C-N':datum.value=='co'?'C-O':datum.value=='cdo'?'C=O':datum.value=='cooh'?'COOH':'π-π*'",
        "encode": {
          "symbols": {"update": {"shape": {"signal": "datum.value=='exp' ? 'circle' : 'stroke'"}, "size": {"signal": "datum.value=='exp' ? 45 : 2500"}, "strokeWidth": {"signal": "datum.value=='exp' ? 2.5 : 4"}, "fill": {"value": "transparent"}, "x": {"value": 25}}},
          "labels": {"update": {"dx": {"signal": "datum.value=='exp2' ? 17 : datum.value=='fit2' ? 33 : 0"}, "font": {"signal": "datum.value=='pi' ? 'Liberation Serif' : 'Liberation Sans'"}, "fontWeight": {"signal": "datum.value=='pi' ? 'normal' : 'bold'"}}}}}}}},
  {"data": {"name": "aF"}, "mark": {"type": "line", "strokeWidth": 4, "interpolate": "monotone"},
   "encoding": {"x": {"field": "x", "type": "quantitative"}, "y": {"field": "y", "type": "quantitative"}, "stroke": {"datum": "fit", "type": "nominal"}}},
  {"data": {"values": [{}]}, "mark": {"type": "text", "align": "left", "baseline": "alphabetic", "font": "Liberation Sans", "fontSize": 44, "fontWeight": "bold", "color": "black"},
   "encoding": {"x": {"datum": 280.13, "type": "quantitative"}, "y": {"datum": 1122, "type": "quantitative"}, "text": {"value": "C1s"}}},
  {"data": {"values": [{}]}, "mark": {"type": "text", "align": "left", "baseline": "alphabetic", "font": "Liberation Sans", "fontSize": 44, "fontWeight": "bold", "color": "black"},
   "encoding": {"x": {"datum": 280.13, "type": "quantitative"}, "y": {"datum": 993, "type": "quantitative"}, "text": {"value": "A-ВОГ"}}}
 ]},
{"width": 522, "height": 424,
 "title": {"text": "б", "offset": 12},
 "layer": [
  {"data": {"name": "bE"}, "mark": {"type": "point", "filled": false, "size": 45, "strokeWidth": 2, "opacity": 1},
   "encoding": {
    "x": {"field": "x", "type": "quantitative", "scale": {"domain": [282, 294], "nice": false, "zero": false}, "axis": {"title": "Енергія зв'язку (еВ)", "values": [282,283,284,285,286,287,288,289,290,291,292,293,294], "labelPadding": 19, "titlePadding": 22, "encode": {"ticks": {"update": {"y2": {"signal": "datum.value % 2 == 0 ? -9 : -5"}}}}}},
    "y": {"field": "y", "type": "quantitative", "scale": {"domain": [-21, 1251], "nice": false, "zero": false}, "axis": {"title": "Інтенсивність (у.о.)", "titleY": 204}},
    "stroke": {"datum": "exp", "type": "nominal"}}},
  {"data": {"name": "bC"}, "mark": {"type": "line", "strokeWidth": 3, "interpolate": "monotone"},
   "encoding": {
    "x": {"field": "x", "type": "quantitative"},
    "y": {"field": "y", "type": "quantitative"},
    "stroke": {"field": "s", "type": "nominal",
      "scale": {"domain": ["exp","exp2","fit","fit2","sp2","sp3","cn","co","cdo","cooh","pi"], "range": ["black","rgba(0,0,0,0)","#9a9630","rgba(0,0,0,0)","#8c8c8c","#f01414","#3cee3c","#138289","#137a13","#b37cf0","#c0121a"]},
      "legend": {"orient": "none", "legendX": 260, "legendY": 5, "title": null,
        "labelExpr": "datum.value=='exp'?'експериментальні':datum.value=='exp2'?'результати':datum.value=='fit'?'результати':datum.value=='fit2'?'деконволюції':datum.value=='sp2'?'sp²':datum.value=='sp3'?'sp³/дефекти':datum.value=='cn'?'C-N':datum.value=='co'?'C-O':datum.value=='cdo'?'C=O':datum.value=='cooh'?'COOH':'π-π*'",
        "encode": {
          "symbols": {"update": {"shape": {"signal": "datum.value=='exp' ? 'circle' : 'stroke'"}, "size": {"signal": "datum.value=='exp' ? 45 : 2500"}, "strokeWidth": {"signal": "datum.value=='exp' ? 2.5 : 4"}, "fill": {"value": "transparent"}, "x": {"value": 25}}},
          "labels": {"update": {"dx": {"signal": "datum.value=='exp2' || datum.value=='fit2' ? 23 : 0"}, "font": {"signal": "datum.value=='pi' ? 'Liberation Serif' : 'Liberation Sans'"}, "fontWeight": {"signal": "datum.value=='pi' ? 'normal' : 'bold'"}}}}}}}},
  {"data": {"name": "bF"}, "mark": {"type": "line", "strokeWidth": 4, "interpolate": "monotone"},
   "encoding": {"x": {"field": "x", "type": "quantitative"}, "y": {"field": "y", "type": "quantitative"}, "stroke": {"datum": "fit", "type": "nominal"}}},
  {"data": {"values": [{}]}, "mark": {"type": "text", "align": "left", "baseline": "alphabetic", "font": "Liberation Sans", "fontSize": 45, "fontWeight": "bold", "color": "black"},
   "encoding": {"x": {"datum": 282.09, "type": "quantitative"}, "y": {"datum": 1113, "type": "quantitative"}, "text": {"value": "C1s\u00a0\u00a0F-ВОГ"}}}
 ]},
{"width": 526, "height": 428,
 "title": {"text": "в", "offset": 18},
 "layer": [
  {"data": {"name": "cE"}, "mark": {"type": "point", "filled": false, "size": 70, "strokeWidth": 2.2, "opacity": 1},
   "encoding": {
    "x": {"field": "x", "type": "quantitative", "scale": {"domain": [282, 292], "nice": false, "zero": false}, "axis": {"title": "Енергія зв'язку (еВ)", "values": [282,283,284,285,286,287,288,289,290,291,292], "labelPadding": 21, "titlePadding": 4, "encode": {"ticks": {"update": {"y2": {"signal": "datum.value % 2 == 0 ? -9 : -5"}}}}}},
    "y": {"field": "y", "type": "quantitative", "scale": {"domain": [-15, 1269], "nice": false, "zero": false}, "axis": {"title": "Інтенсивність (у.о.)", "titleY": 200}},
    "stroke": {"datum": "exp", "type": "nominal"}}},
  {"data": {"name": "cC"}, "mark": {"type": "line", "strokeWidth": 3, "interpolate": "monotone"},
   "encoding": {
    "x": {"field": "x", "type": "quantitative"},
    "y": {"field": "y", "type": "quantitative"},
    "stroke": {"field": "s", "type": "nominal",
      "scale": {"domain": ["exp","exp2","fit","fit2","sp2","sp3","cn","co","cdo","cooh"], "range": ["black","rgba(0,0,0,0)","#9a9630","rgba(0,0,0,0)","#8c8c8c","#f01414","#3cee3c","#138289","#137a13","#b37cf0"]},
      "legend": {"orient": "none", "legendX": 258, "legendY": 10, "title": null,
        "labelExpr": "datum.value=='exp'?'експериментальні':datum.value=='exp2'?'результати':datum.value=='fit'?'результати':datum.value=='fit2'?'деконволюції':datum.value=='sp2'?'sp²':datum.value=='sp3'?'sp³/дефекти':datum.value=='cn'?'C-N':datum.value=='co'?'C-O':datum.value=='cdo'?'C=O':datum.value=='cooh'?'COOH':'π-π*'",
        "encode": {
          "symbols": {"update": {"shape": {"signal": "datum.value=='exp' ? 'circle' : 'stroke'"}, "size": {"signal": "datum.value=='exp' ? 45 : 2500"}, "strokeWidth": {"signal": "datum.value=='exp' ? 2.5 : 4"}, "fill": {"value": "transparent"}, "x": {"value": 25}}},
          "labels": {"update": {"dx": {"signal": "datum.value=='exp2' || datum.value=='fit2' ? 23 : 0"}, "font": {"signal": "datum.value=='pi' ? 'Liberation Serif' : 'Liberation Sans'"}, "fontWeight": {"signal": "datum.value=='pi' ? 'normal' : 'bold'"}}}}}}}},
  {"data": {"name": "cF"}, "mark": {"type": "line", "strokeWidth": 4, "interpolate": "monotone"},
   "encoding": {"x": {"field": "x", "type": "quantitative"}, "y": {"field": "y", "type": "quantitative"}, "stroke": {"datum": "fit", "type": "nominal"}}},
  {"data": {"values": [{}]}, "mark": {"type": "text", "align": "left", "baseline": "alphabetic", "font": "Liberation Sans", "fontSize": 47, "fontWeight": "bold", "color": "black"},
   "encoding": {"x": {"datum": 282.05, "type": "quantitative"}, "y": {"datum": 1125, "type": "quantitative"}, "text": {"value": "G-ВОГ"}}},
  {"data": {"values": [{}]}, "mark": {"type": "text", "align": "left", "baseline": "alphabetic", "font": "Liberation Sans", "fontSize": 47, "fontWeight": "bold", "color": "black"},
   "encoding": {"x": {"datum": 282.08, "type": "quantitative"}, "y": {"datum": 966, "type": "quantitative"}, "text": {"value": "C1s"}}}
 ]},
{"width": 522, "height": 421,
 "title": {"text": "г", "offset": 6},
 "layer": [
  {"data": {"name": "dE"}, "mark": {"type": "point", "filled": false, "size": 55, "strokeWidth": 2, "opacity": 1},
   "encoding": {
    "x": {"field": "x", "type": "quantitative", "scale": {"domain": [282, 294], "nice": false, "zero": false}, "axis": {"title": "Енергія зв'язку (еВ)", "values": [282,283,284,285,286,287,288,289,290,291,292,293,294], "labelPadding": 22, "titlePadding": 21, "encode": {"ticks": {"update": {"y2": {"signal": "datum.value % 2 == 0 ? -9 : -5"}}}}}},
    "y": {"field": "y", "type": "quantitative", "scale": {"domain": [-54, 1209], "nice": false, "zero": false}, "axis": {"title": "Інтенсивність (у.о.)", "titleY": 192}},
    "stroke": {"datum": "exp", "type": "nominal"}}},
  {"data": {"name": "dC"}, "mark": {"type": "line", "strokeWidth": 3, "interpolate": "monotone"},
   "encoding": {
    "x": {"field": "x", "type": "quantitative"},
    "y": {"field": "y", "type": "quantitative"},
    "stroke": {"field": "s", "type": "nominal",
      "scale": {"domain": ["exp","exp2","fit","fit2","sp2","sp3","co","cdo","cooh","pi"], "range": ["black","rgba(0,0,0,0)","#9a9630","rgba(0,0,0,0)","#8c8c8c","#3cee3c","#138289","#137a13","#b37cf0","#c0121a"]},
      "legend": {"orient": "none", "legendX": 260, "legendY": 5, "title": null,
        "labelExpr": "datum.value=='exp'?'експериментальні':datum.value=='exp2'?'результати':datum.value=='fit'?'результати':datum.value=='fit2'?'деконволюції':datum.value=='sp2'?'sp²':datum.value=='sp3'?'sp³/дефекти':datum.value=='cn'?'C-N':datum.value=='co'?'C-O':datum.value=='cdo'?'C=O':datum.value=='cooh'?'COOH':'π-π*'",
        "encode": {
          "symbols": {"update": {"shape": {"signal": "datum.value=='exp' ? 'circle' : 'stroke'"}, "size": {"signal": "datum.value=='exp' ? 45 : 2500"}, "strokeWidth": {"signal": "datum.value=='exp' ? 2.5 : 4"}, "fill": {"value": "transparent"}, "x": {"value": 25}}},
          "labels": {"update": {"dx": {"signal": "datum.value=='exp2' || datum.value=='fit2' ? 23 : 0"}, "font": {"signal": "datum.value=='pi' ? 'Liberation Serif' : 'Liberation Sans'"}, "fontWeight": {"signal": "datum.value=='pi' ? 'normal' : 'bold'"}}}}}}}},
  {"data": {"name": "dF"}, "mark": {"type": "line", "strokeWidth": 4, "interpolate": "monotone"},
   "encoding": {"x": {"field": "x", "type": "quantitative"}, "y": {"field": "y", "type": "quantitative"}, "stroke": {"datum": "fit", "type": "nominal"}}},
  {"data": {"values": [{}]}, "mark": {"type": "text", "align": "left", "baseline": "alphabetic", "font": "Liberation Sans", "fontSize": 33, "fontWeight": "bold", "color": "black"},
   "encoding": {"x": {"datum": 282.13, "type": "quantitative"}, "y": {"datum": 1104, "type": "quantitative"}, "text": {"value": "C1s"}}},
  {"data": {"values": [{}]}, "mark": {"type": "text", "align": "left", "baseline": "alphabetic", "font": "Liberation Sans", "fontSize": 33, "fontWeight": "bold", "color": "black"},
   "encoding": {"x": {"datum": 282.13, "type": "quantitative"}, "y": {"datum": 1014, "type": "quantitative"}, "text": {"value": "A-t-ВОГ"}}}
 ]}
]
}
